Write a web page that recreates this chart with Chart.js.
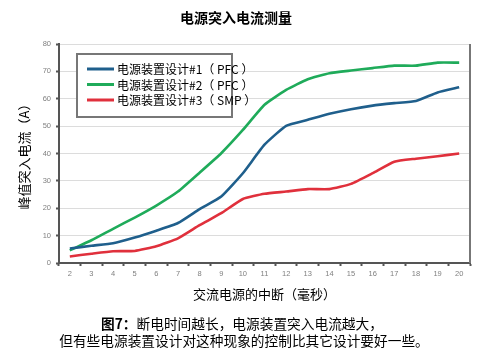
<!DOCTYPE html>
<html>
<head>
<meta charset="utf-8">
<script src="https://cdn.jsdelivr.net/npm/chart.js@4"></script>
<style>
html,body{margin:0;padding:0;background:#fff;}
#wrap{position:relative;width:486px;height:355px;}
</style>
</head>
<body>
<div id="wrap"><canvas id="c" width="486" height="355"></canvas></div>
<script>
const categories = ['2','3','4','5','6','7','8','9','10','11','12','13','14','15','16','17','18','19','20'];
const seriesLabels = ['电源装置设计#1（ PFC ）','电源装置设计#2（ PFC ）','电源装置设计#3（ SMP ）'];
const design1 = [5.3, 6.3, 7.2, 9.3, 11.8, 14.6, 19.7, 24.3, 32.8, 43.2, 50.1, 52.3, 54.5, 56.2, 57.5, 58.4, 59.2, 62.3, 64.2];
const design2 = [4.6, 8.3, 12.5, 16.6, 21.0, 26.1, 33.0, 40.1, 48.6, 57.8, 63.2, 67.1, 69.3, 70.3, 71.2, 72.1, 72.1, 73.2, 73.2];
const design3 = [2.4, 3.4, 4.3, 4.4, 6.1, 9.0, 13.8, 18.2, 23.4, 25.3, 26.1, 27.0, 27.0, 28.9, 32.8, 37.0, 38.1, 39.0, 40.0];
const seriesColors = ['#1f5f8c', '#1fab5a', '#e0303c'];
const yTicks = [0,10,20,30,40,50,60,70,80];
const chartTitle = '电源突入电流测量';
const yTitle = '峰值突入电流（A）';
const xTitle = '交流电源的中断（毫秒）';
const captionBold = '图7：';
const captionLine1 = '断电时间越长，电源装置突入电流越大，';
const captionLine2 = '但有些电源装置设计对这种现象的控制比其它设计要好一些。';

const CJK = '"Noto Sans CJK SC", "Noto Sans", sans-serif';

const decor = {
  id: 'decor',
  afterDraw(chart) {
    const ctx = chart.ctx;
    const a = chart.chartArea;
    ctx.save();
    // right border
    ctx.strokeStyle = '#777';
    ctx.lineWidth = 2;
    ctx.beginPath();
    ctx.moveTo(a.right, a.top);
    ctx.lineTo(a.right, a.bottom);
    ctx.stroke();
    // title
    ctx.fillStyle = '#000';
    ctx.font = 'bold 14px ' + CJK;
    ctx.textAlign = 'center';
    ctx.textBaseline = 'middle';
    ctx.fillText(chartTitle, 236, 18);
    // legend box
    ctx.fillStyle = '#fff';
    ctx.fillRect(77, 54, 155, 63);
    ctx.strokeStyle = '#777';
    ctx.lineWidth = 2;
    ctx.strokeRect(77, 54, 155, 63);
    const rows = [69, 84.5, 100];
    ctx.font = '12px ' + CJK;
    ctx.textAlign = 'left';
    chart.data.datasets.forEach((ds, i) => {
      ctx.strokeStyle = ds.borderColor;
      ctx.lineWidth = 3;
      ctx.beginPath();
      ctx.moveTo(87, rows[i]);
      ctx.lineTo(114, rows[i]);
      ctx.stroke();
      ctx.fillStyle = '#000';
      ctx.fillText(ds.label, 117, rows[i] + 0.5);
    });
    // caption
    ctx.font = 'bold 13.7px ' + CJK;
    const wb = ctx.measureText(captionBold).width;
    ctx.font = '13.7px ' + CJK;
    const w1 = ctx.measureText(captionLine1).width;
    let x0 = 242 - (wb + w1) / 2;
    ctx.font = 'bold 13.7px ' + CJK;
    ctx.fillText(captionBold, x0, 324);
    ctx.font = '13.7px ' + CJK;
    ctx.fillText(captionLine1, x0 + wb, 324);
    ctx.textAlign = 'center';
    ctx.fillText(captionLine2, 244, 341);
    ctx.restore();
  }
};

new Chart(document.getElementById('c'), {
  type: 'line',
  data: {
    labels: categories,
    datasets: [
      {label: seriesLabels[0], data: design1, borderColor: seriesColors[0]},
      {label: seriesLabels[1], data: design2, borderColor: seriesColors[1]},
      {label: seriesLabels[2], data: design3, borderColor: seriesColors[2]}
    ].map(d => Object.assign(d, {borderWidth: 2.6, pointRadius: 0, fill: false, tension: 0.15}))
  },
  options: {
    responsive: false,
    animation: false,
    devicePixelRatio: 1,
    layout: {padding: {top: 44, right: 16, bottom: 51, left: 0}},
    plugins: {legend: {display: false}, title: {display: false}, tooltip: {enabled: false}},
    scales: {
      x: {
        type: 'category',
        offset: true,
        afterFit(s) { s.height = 41; },
        grid: {display: true, drawOnChartArea: false, offset: true, tickLength: 3, tickColor: '#555', tickWidth: 2},
        border: {color: '#555', width: 2},
        ticks: {color: '#808080', font: {family: 'Liberation Sans', size: 7.5}, padding: 3, maxRotation: 0, autoSkip: false},
        title: {display: true, text: xTitle, color: '#000', font: {family: CJK, size: 13}, padding: {top: 0, bottom: 2.2}}
      },
      y: {
        min: 0, max: 80,
        afterFit(s) { s.width = 59; },
        afterBuildTicks(s) { s.ticks = yTicks.map(v => ({value: v})); },
        grid: {color: '#dcdcdc', lineWidth: 1, tickLength: 3, tickColor: '#555', tickWidth: 2},
        border: {color: '#555', width: 2},
        ticks: {color: '#808080', font: {family: 'Liberation Sans', size: 7.5}, padding: 5},
        title: {display: true, text: yTitle, color: '#000', font: {family: CJK, size: 13}, padding: {top: 16, bottom: 0}}
      }
    }
  },
  plugins: [decor]
});
</script>
</body>
</html>
